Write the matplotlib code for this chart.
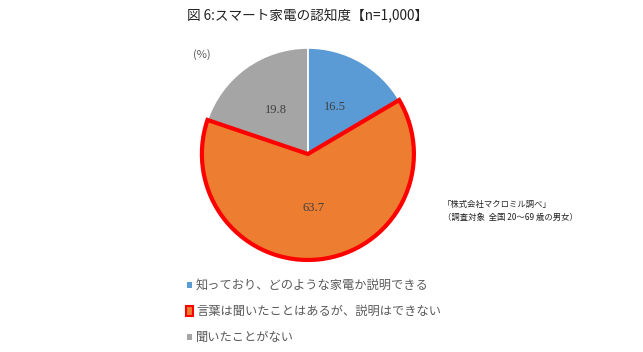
import numpy as np
import matplotlib.pyplot as plt
from matplotlib.patches import Rectangle

plt.rcParams['font.family'] = ['Noto Sans CJK JP', 'DejaVu Sans']

labels = ["知っており、どのような家電か説明できる",
          "言葉は聞いたことはあるが、説明はできない",
          "聞いたことがない"]
values = [16.5, 63.7, 19.8]
colors = ["#5b9bd5", "#ed7d31", "#a5a5a5"]

fig = plt.figure(figsize=(6.43, 3.52), dpi=100)

fig.text(0.479, 0.955, "図 6:スマート家電の認知度【n=1,000】", ha="center", va="center",
         fontsize=9.8, color="#222222")

ax = fig.add_axes([0.314, 0.2614, 0.3297, 0.6023])
wedges, texts = ax.pie(values, colors=colors, startangle=90, counterclock=False,
                       wedgeprops=dict(edgecolor="white", linewidth=1.2))
ax.set_xlim(-1, 1)
ax.set_ylim(-1, 1)
ax.set_aspect("equal")
wedges[1].set_edgecolor("red")
wedges[1].set_linewidth(3)
wedges[1].set_zorder(3)
for w in wedges:
    w.set_clip_on(False)

# value labels inside the slices
cum = np.cumsum([0] + values)
for i, v in enumerate(values):
    ang = np.deg2rad(90 - 3.6 * (cum[i] + v / 2))
    ax.text(0.51 * np.cos(ang), 0.51 * np.sin(ang), f"{v}", ha="center", va="center",
            fontsize=9, color="#404040", family=["Liberation Serif", "DejaVu Serif"], zorder=5)

fig.text(0.314, 0.844, "(%)", ha="center", va="center", fontsize=8, color="#595959")

fig.text(0.689, 0.418, "「株式会社マクロミル調べ」", ha="left", va="center", fontsize=6, color="#222222")
fig.text(0.689, 0.381, "（調査対象  全国 20～69 歳の男女）", ha="left", va="center", fontsize=6, color="#222222")

# legend
ys = [1 - 285 / 352, 1 - 311 / 352, 1 - 337 / 352]
for i, (lab, y) in enumerate(zip(labels, ys)):
    if i == 1:
        fig.patches.append(Rectangle((0.289, y - 0.014), 0.011, 0.028, transform=fig.transFigure,
                                     facecolor=colors[i], edgecolor="red", linewidth=1.5))
    else:
        fig.patches.append(Rectangle((0.291, y - 0.009), 0.008, 0.018, transform=fig.transFigure,
                                     facecolor=colors[i], edgecolor="none"))
    fig.text(0.305, y, lab, ha="left", va="center", fontsize=8.8, color="#595959")

fig.savefig("out.png", dpi=100)
